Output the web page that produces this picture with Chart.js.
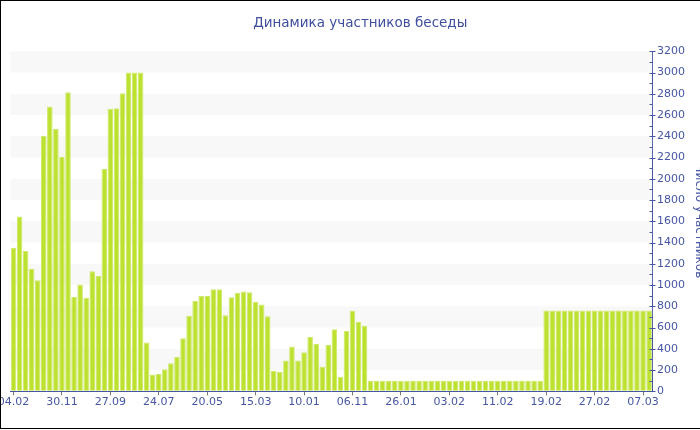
<!DOCTYPE html>
<html>
<head>
<meta charset="utf-8">
<title>Динамика участников беседы</title>
<script src="https://cdn.jsdelivr.net/npm/chart.js@4/dist/chart.umd.min.js"></script>
<style>
    html, body { margin: 0; padding: 0; overflow: hidden; background: #fff; }
    #frame {
        position: absolute; left: 0; top: 0;
        width: 720px; height: 427px;
        border: 1px solid #000;
        overflow: hidden;
    }
    #wrap { position: absolute; left: 0; top: 0; width: 709px; height: 427px; }
</style>
</head>
<body>
<div id="frame"><div id="wrap"><canvas id="chart"></canvas></div></div>
<script>
// dates shown under the axis, one every 8 bars
const tickLabels = ['04.02', '30.11', '27.09', '24.07', '20.05', '15.03', '10.01',
    '06.11', '26.01', '03.02', '11.02', '19.02', '27.02', '07.03'];

// number of chat members per bar
const members = [
    1350, 1645, 1320, 1150, 1045, 2405, 2680, 2470, 2205, 2815,
    890, 1005, 880, 1130, 1085, 2095, 2660, 2665, 2805, 3000,
    3000, 3000, 460, 157, 162, 207, 265, 325, 500, 712,
    850, 900, 898, 960, 960, 715, 885, 925, 940, 932,
    840, 816, 706, 191, 182, 289, 422, 290, 367, 513,
    446, 232, 439, 584, 138, 568, 759, 652, 618, 100,
    100, 100, 100, 100, 100, 100, 100, 100, 100, 100,
    100, 100, 100, 100, 100, 100, 100, 100, 100, 100,
    100, 100, 100, 100, 100, 100, 100, 100, 760, 760,
    760, 760, 760, 760, 760, 760, 760, 760, 760, 760,
    760, 760, 760, 760, 760, 760
];

const labels = members.map((v, i) => i % 8 === 0 ? tickLabels[i / 8] : '');

const blue = '#4656a3';

// alternating grey stripes every 200
const bands = {
    id: 'bands',
    beforeDatasetsDraw(chart) {
        const {ctx, chartArea} = chart;
        const y = chart.scales.y;
        ctx.save();
        ctx.fillStyle = '#f8f8f8';
        for (let v = 200; v < 3200; v += 400) {
            const top = y.getPixelForValue(v + 200);
            const bottom = y.getPixelForValue(v);
            ctx.fillRect(chartArea.left, top, chartArea.right - chartArea.left, bottom - top);
        }
        ctx.restore();
    }
};

// major and minor tick marks on the right axis
const yTicks = {
    id: 'yTicks',
    afterDraw(chart) {
        const {ctx, chartArea} = chart;
        const y = chart.scales.y;
        const x = Math.round(chartArea.right) + 0.5;
        ctx.save();
        ctx.strokeStyle = blue;
        ctx.lineWidth = 1;
        ctx.beginPath();
        for (let v = 0; v <= 3200; v += 100) {
            const py = Math.round(y.getPixelForValue(v)) + 0.5;
            ctx.moveTo(x - 3, py);
            ctx.lineTo(v % 200 === 0 ? x + 3 : x, py);
        }
        ctx.stroke();
        ctx.restore();
    }
};

Chart.defaults.font.family = 'DejaVu Sans';
Chart.defaults.font.size = 11;
Chart.defaults.color = blue;

new Chart(document.getElementById('chart'), {
    type: 'bar',
    data: {
        labels: labels,
        datasets: [{
            data: members,
            backgroundColor: '#bde12f',
            borderColor: '#cde86a',
            borderWidth: 1,
            borderSkipped: 'bottom',
            barPercentage: 0.92,
            categoryPercentage: 1
        }]
    },
    options: {
        responsive: true,
        maintainAspectRatio: false,
        animation: false,
        layout: { padding: { left: 9.5, right: 0, top: 4, bottom: 19.5 } },
        plugins: {
            legend: { display: false },
            tooltip: { enabled: false },
            title: {
                display: true,
                text: 'Динамика участников беседы',
                color: '#3f4f9e',
                font: { size: 13.5, weight: 'normal' },
                padding: { top: 10.5, bottom: 19.6 }
            }
        },
        scales: {
            x: {
                offset: true,
                grid: {
                    display: true,
                    offset: false,
                    drawOnChartArea: false,
                    drawTicks: true,
                    tickLength: 4,
                    color: '#777'
                },
                border: { display: true, color: blue },
                ticks: {
                    autoSkip: false,
                    maxRotation: 0,
                    padding: 0,
                    color: blue,
                    callback: function (value) {
                        return this.getLabelForValue(value) || null;
                    }
                },
                afterFit(scale) {
                    scale.paddingLeft = 0;
                    scale.paddingRight = 0;
                }
            },
            y: {
                position: 'right',
                min: 0,
                max: 3200,
                grid: { display: true, drawOnChartArea: false, drawTicks: false },
                border: { display: true, color: blue },
                ticks: {
                    stepSize: 200,
                    padding: 5,
                    color: blue,
                    callback: (v) => String(v)
                },
                title: {
                    display: true,
                    text: 'Число участников',
                    color: blue,
                    font: { size: 12 },
                    padding: { top: 4, bottom: 1.5 }
                }
            }
        }
    },
    plugins: [bands, yTicks]
});
</script>
</body>
</html>
